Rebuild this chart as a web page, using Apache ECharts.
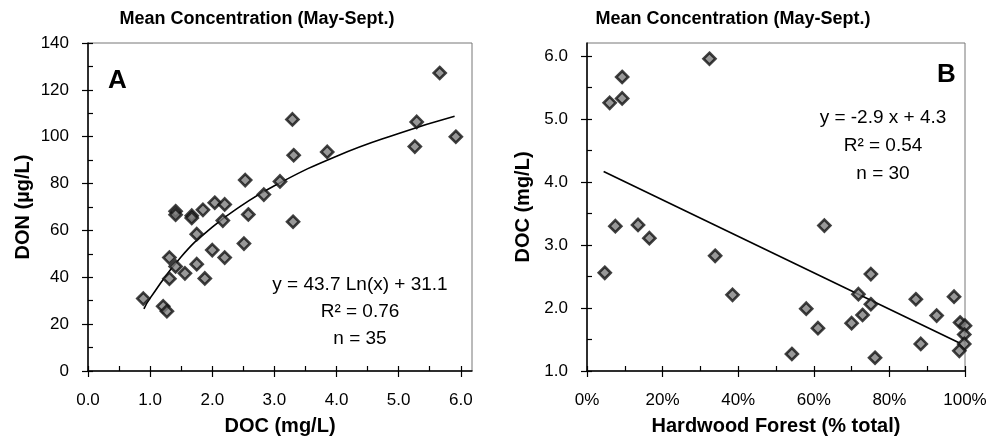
<!DOCTYPE html>
<html>
<head>
<meta charset="utf-8">
<title>Mean Concentration (May-Sept.)</title>
<script src="https://cdn.jsdelivr.net/npm/echarts@6/dist/echarts.min.js"></script>
<style>
  html, body { margin: 0; padding: 0; background: #fff; }
  #main { width: 994px; height: 441px; }
</style>
</head>
<body>
<div id="main"></div>
<script>
// panel A: DON vs DOC
var docA = [5.66, 3.29, 5.29, 5.92, 5.26, 3.31, 3.85, 2.53, 3.09, 2.83, 1.41, 1.41, 1.67, 1.67, 1.85, 2.04, 2.20,
            3.30, 2.58, 2.17, 1.75, 2.00, 2.20, 2.51, 1.31, 1.41, 1.75, 1.56, 1.88, 1.31, 0.89, 1.21, 1.27];
var donA = [127.2, 107.4, 106.3, 100.0, 95.8, 92.1, 93.5, 81.5, 80.9, 75.3, 68.2, 66.7, 66.3, 65.3, 68.8, 71.8, 71.1,
            63.7, 66.8, 64.2, 58.4, 51.6, 48.4, 54.4, 48.4, 44.6, 45.6, 41.7, 39.5, 39.4, 30.9, 27.6, 25.5];
// fitted curve as drawn (y = 43.7 Ln(x) + 31.1)
var fitAX = [0.9, 1.0, 1.5, 2.0, 2.5, 3.0, 4.0, 5.0, 5.9];
var fitAY = [26.5, 31.1, 48.8, 61.4, 71.1, 79.1, 91.7, 101.4, 108.7];

// panel B: DOC vs hardwood forest
var forestB = [32.4, 9.3, 9.3, 6.0, 4.7, 7.5, 13.5, 16.5, 33.9, 38.5, 54.2, 58.0, 61.1, 62.8, 70.0, 71.8, 72.9,
               75.1, 75.1, 76.2, 87.0, 88.3, 92.5, 97.1, 98.7, 100, 99.8, 99.8, 98.5];
var docB = [5.96, 5.67, 5.33, 5.26, 2.56, 3.30, 3.32, 3.11, 2.83, 2.21, 1.27, 1.99, 1.68, 3.31, 1.76, 2.22, 1.89,
            2.54, 2.06, 1.21, 2.14, 1.43, 1.88, 2.18, 1.77, 1.72, 1.58, 1.43, 1.32];
var fitBX = [4.4, 98.7];
var fitBY = [4.17, 1.44];

// tick labels
var ticksAX = [0, 1, 2, 3, 4, 5, 6];
var minorAX = [0, 0.5, 1, 1.5, 2, 2.5, 3, 3.5, 4, 4.5, 5, 5.5, 6];
var ticksAY = [0, 20, 40, 60, 80, 100, 120, 140];
var minorAY = [0, 10, 20, 30, 40, 50, 60, 70, 80, 90, 100, 110, 120, 130, 140];
var ticksBX = [0, 20, 40, 60, 80, 100];
var minorBX = [0, 10, 20, 30, 40, 50, 60, 70, 80, 90, 100];
var ticksBY = [1, 2, 3, 4, 5, 6];
var minorBY = [1, 1.5, 2, 2.5, 3, 3.5, 4, 4.5, 5, 5.5, 6];

var FONT = 'Liberation Sans, Arial, sans-serif';

function zip(a, b) {
  return a.map(function (v, i) { return [v, b[i]]; });
}

// outer axis: line, labels and outward ticks
function mainAxis(grid, pos, min, max, ticks, fmt, name, nameGap) {
  return {
    type: 'value', gridIndex: grid, position: pos, min: min, max: max,
    splitLine: { show: false },
    axisLine: { show: true, lineStyle: { color: '#000', width: 1.5 } },
    axisTick: { show: true, inside: false, length: 6, customValues: ticks, lineStyle: { color: '#000', width: 1.2 } },
    axisLabel: { customValues: ticks, formatter: fmt, color: '#000', fontSize: 17, fontFamily: FONT,
                 margin: pos === 'bottom' ? 21 : 19 },
    name: name, nameLocation: 'middle', nameGap: nameGap,
    nameTextStyle: { color: '#000', fontSize: 20, fontWeight: 'bold', fontFamily: FONT }
  };
}
// inner layer: inward major + minor ticks
function innerAxis(grid, pos, min, max, ticks) {
  return {
    type: 'value', gridIndex: grid, position: pos, min: min, max: max,
    splitLine: { show: false },
    axisLine: { show: false },
    axisLabel: { show: false },
    axisTick: { show: true, inside: true, length: 5, customValues: ticks, lineStyle: { color: '#000', width: 1.2 } }
  };
}

var myChart = echarts.init(document.getElementById('main'), null, { renderer: 'canvas' });

var option = {
  backgroundColor: '#fff',
  animation: false,
  title: [
    { text: 'Mean Concentration (May-Sept.)', left: 252, top: 5, textAlign: 'center',
      textStyle: { fontSize: 18, fontWeight: 'bold', color: '#000', fontFamily: FONT } },
    { text: 'Mean Concentration (May-Sept.)', left: 728, top: 5, textAlign: 'center',
      textStyle: { fontSize: 18, fontWeight: 'bold', color: '#000', fontFamily: FONT } }
  ],
  grid: [
    { left: 88, right: 522, top: 43, bottom: 70, outerBoundsMode: 'none',
      show: true, borderColor: '#777', borderWidth: 1, backgroundColor: '#fff' },
    { left: 587, right: 29, top: 43, bottom: 70, outerBoundsMode: 'none',
      show: true, borderColor: '#777', borderWidth: 1, backgroundColor: '#fff' }
  ],
  xAxis: [
    mainAxis(0, 'bottom', 0, 6.18, ticksAX, function (v) { return v.toFixed(1); }, 'DOC (mg/L)', 45),
    innerAxis(0, 'bottom', 0, 6.18, minorAX),
    mainAxis(1, 'bottom', 0, 100, ticksBX, function (v) { return v + '%'; }, 'Hardwood Forest (% total)', 45),
    innerAxis(1, 'bottom', 0, 100, minorBX)
  ],
  yAxis: [
    mainAxis(0, 'left', 0, 140, ticksAY, function (v) { return String(v); }, 'DON (\u00b5g/L)', 55),
    innerAxis(0, 'left', 0, 140, minorAY),
    mainAxis(1, 'left', 1, 6.21, ticksBY, function (v) { return v.toFixed(1); }, 'DOC (mg/L)', 54),
    innerAxis(1, 'left', 1, 6.21, minorBY)
  ],
  graphic: [
    { type: 'text', left: 108, top: 68, style: { text: 'A', fontSize: 26, fontWeight: 'bold', fontFamily: FONT, fill: '#000' } },
    { type: 'text', left: 937, top: 62, style: { text: 'B', fontSize: 26, fontWeight: 'bold', fontFamily: FONT, fill: '#000' } },
    { type: 'text', x: 360, y: 285, style: { text: 'y = 43.7 Ln(x) + 31.1', align: 'center', verticalAlign: 'middle', fontSize: 19, fontFamily: FONT, fill: '#000' } },
    { type: 'text', x: 360, y: 312, style: { text: 'R\u00b2 = 0.76', align: 'center', verticalAlign: 'middle', fontSize: 19, fontFamily: FONT, fill: '#000' } },
    { type: 'text', x: 360, y: 339, style: { text: 'n = 35', align: 'center', verticalAlign: 'middle', fontSize: 19, fontFamily: FONT, fill: '#000' } },
    { type: 'text', x: 883, y: 118, style: { text: 'y = -2.9 x + 4.3', align: 'center', verticalAlign: 'middle', fontSize: 19, fontFamily: FONT, fill: '#000' } },
    { type: 'text', x: 883, y: 146, style: { text: 'R\u00b2 = 0.54', align: 'center', verticalAlign: 'middle', fontSize: 19, fontFamily: FONT, fill: '#000' } },
    { type: 'text', x: 883, y: 174, style: { text: 'n = 30', align: 'center', verticalAlign: 'middle', fontSize: 19, fontFamily: FONT, fill: '#000' } }
  ],
  series: [
    {
      type: 'line', xAxisIndex: 0, yAxisIndex: 0, data: zip(fitAX, fitAY), smooth: true,
      symbol: 'none', lineStyle: { color: '#000', width: 1.6 }, z: 2
    },
    {
      type: 'scatter', xAxisIndex: 0, yAxisIndex: 0, data: zip(docA, donA),
      symbol: 'diamond', symbolSize: 12,
      itemStyle: { color: '#7e7e7e', borderColor: '#111', borderWidth: 2.6 }, z: 3
    },
    {
      type: 'line', xAxisIndex: 2, yAxisIndex: 2, data: zip(fitBX, fitBY),
      symbol: 'none', lineStyle: { color: '#000', width: 1.6 }, z: 2
    },
    {
      type: 'scatter', xAxisIndex: 2, yAxisIndex: 2, data: zip(forestB, docB),
      symbol: 'diamond', symbolSize: 12,
      itemStyle: { color: '#7e7e7e', borderColor: '#111', borderWidth: 2.6 }, z: 3
    }
  ]
};

myChart.setOption(option);
</script>
</body>
</html>
